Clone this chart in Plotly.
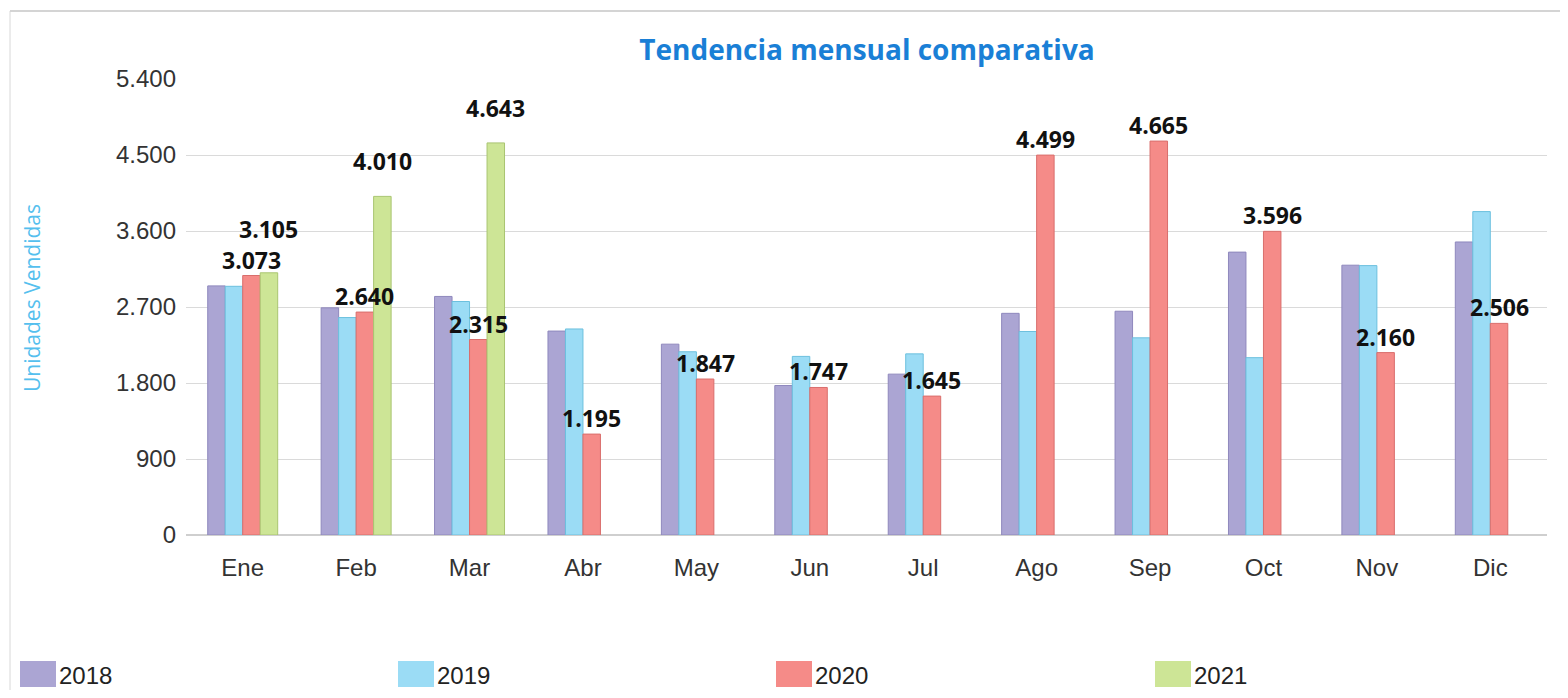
import plotly.graph_objects as go

# ---------------- data ----------------
months = ["Ene", "Feb", "Mar", "Abr", "May", "Jun", "Jul", "Ago", "Sep", "Oct", "Nov", "Dic"]
series_names = ["2018", "2019", "2020", "2021"]
v2018 = [2950, 2690, 2825, 2415, 2260, 1770, 1905, 2625, 2650, 3350, 3195, 3470]
v2019 = [2945, 2575, 2765, 2440, 2170, 2115, 2145, 2410, 2335, 2100, 3190, 3830]
v2020 = [3073, 2640, 2315, 1195, 1847, 1747, 1645, 4499, 4665, 3596, 2160, 2506]
v2021 = [3105, 4010, 4643, None, None, None, None, None, None, None, None, None]
y_ticks = [0, 900, 1800, 2700, 3600, 4500, 5400]
labeled_series = ["2020", "2021"]
title_text = "Tendencia mensual comparativa"
y_title = "Unidades Vendidas"

series_values = [v2018, v2019, v2020, v2021]

# ---------------- style ----------------
fills = ["#aba5d3", "#9bdcf5", "#f58b88", "#cde596"]
edges = ["#8f88bd", "#6cc0de", "#d96e6c", "#a9c571"]
label_gap = {"2020": -1, "2021": 18}
LABEL_FONT = 23

# the page body has an 8px margin: work in page pixels and convert
OFF = 8
PAGE_W, PAGE_H = 1568, 698
W, H = PAGE_W - 2 * OFF, PAGE_H - 2 * OFF
PLOT_L, PLOT_R, PLOT_T, PLOT_B = 186, 1547, 79, 535   # page pixels
ML = PLOT_L - OFF
MR = (OFF + W) - PLOT_R
MT = PLOT_T - OFF
MB = (OFF + H) - PLOT_B
plot_w = W - ML - MR
plot_h = H - MT - MB
bargap = 0.383
bar_px = plot_w / len(months) * (1 - bargap) / len(series_names)
Y_MAX = y_ticks[-1]


def fmt(v):
    return f"{v:,}".replace(",", ".")


def px_x(px):
    return (px - PLOT_L) / plot_w


def px_y(py):
    return (PLOT_B - py) / plot_h


fig = go.Figure()
for name, vals, fc, ec in zip(series_names, series_values, fills, edges):
    fig.add_trace(go.Bar(
        name=name, x=months, y=vals,
        marker=dict(color=fc, line=dict(color=ec, width=1)),
        showlegend=False,
    ))

# data labels with simple collision avoidance (push later label upward)
annotations = []
box_h = LABEL_FONT * 1.32
for mi, m in enumerate(months):
    placed = []  # (x0, x1, y_bottom, y_top) in upward pixel units
    for si, (name, vals) in enumerate(zip(series_names, series_values)):
        if name not in labeled_series or vals[mi] is None:
            continue
        v = vals[mi]
        txt = fmt(v)
        xs = (si - (len(series_names) - 1) / 2) * bar_px
        w_est = LABEL_FONT * 0.6 * len(txt)
        bar_top = v / Y_MAX * plot_h
        ys = label_gap[name]
        for (a0, a1, b0, b1) in placed:
            if xs - w_est / 2 < a1 and xs + w_est / 2 > a0:
                bottom = bar_top + ys
                if bottom < b1 and bottom + box_h > b0:
                    ys = b1 - bar_top
        placed.append((xs - w_est / 2, xs + w_est / 2, bar_top + ys, bar_top + ys + box_h))
        annotations.append(dict(
            x=m, y=v, xref="x", yref="y", text=txt, showarrow=False,
            xanchor="center", yanchor="bottom", borderpad=0,
            xshift=xs, yshift=ys,
            font=dict(family="Open Sans", size=LABEL_FONT, color="#111111", weight="bold"),
        ))

# y-axis title placed like the original
annotations.append(dict(xref="paper", yref="paper", x=px_x(32), y=px_y(298),
                        text=y_title, textangle=-90, showarrow=False,
                        xanchor="center", yanchor="middle",
                        font=dict(family="Open Sans", size=21, color="#55bfee")))

# manual legend (large swatches like the original)
shapes = []
legend_x = [20, 398, 776, 1155]
for name, fc, lx in zip(series_names, fills, legend_x):
    shapes.append(dict(type="rect", xref="paper", yref="paper",
                       x0=px_x(lx), x1=px_x(lx + 36), y0=px_y(687), y1=px_y(661),
                       fillcolor=fc, line=dict(width=0)))
    annotations.append(dict(xref="paper", yref="paper", x=px_x(lx + 37), y=px_y(675),
                            text=name, showarrow=False, xanchor="left", yanchor="middle",
                            font=dict(family="Liberation Sans", size=24, color="#222222")))

# frame decoration
shapes.append(dict(type="line", xref="paper", yref="paper",
                   x0=px_x(10), x1=px_x(10), y0=px_y(690), y1=px_y(11),
                   line=dict(color="#d8d8d8", width=1)))
shapes.append(dict(type="line", xref="paper", yref="paper",
                   x0=px_x(10), x1=px_x(PAGE_W - OFF), y0=px_y(11), y1=px_y(11),
                   line=dict(color="#d4d4d4", width=2)))

fig.update_layout(
    width=W, height=H,
    margin=dict(l=ML, r=MR, t=MT, b=MB),
    paper_bgcolor="white", plot_bgcolor="white",
    barmode="group", bargap=bargap, bargroupgap=0,
    separators=",.",
    title=dict(text=f"<b>{title_text}</b>", x=(867 - OFF) / W, xanchor="center",
               y=1 - (50 - OFF) / H, yanchor="middle", xref="container", yref="container",
               font=dict(family="Open Sans", size=28, color="#1a7fd6")),
    xaxis=dict(type="category", showgrid=False, showline=False, ticks="",
               ticklabelstandoff=16,
               tickfont=dict(family="Liberation Sans", size=24, color="#333333")),
    yaxis=dict(range=[0, Y_MAX], tickvals=y_ticks, tickformat=",d",
               gridcolor="#dadada", gridwidth=1, zeroline=True, zerolinecolor="#cfcfcf",
               showline=False, ticks="", ticklabelstandoff=9,
               tickfont=dict(family="Liberation Sans", size=24, color="#333333")),
    annotations=annotations,
    shapes=shapes,
)

fig.write_html("out.html")
